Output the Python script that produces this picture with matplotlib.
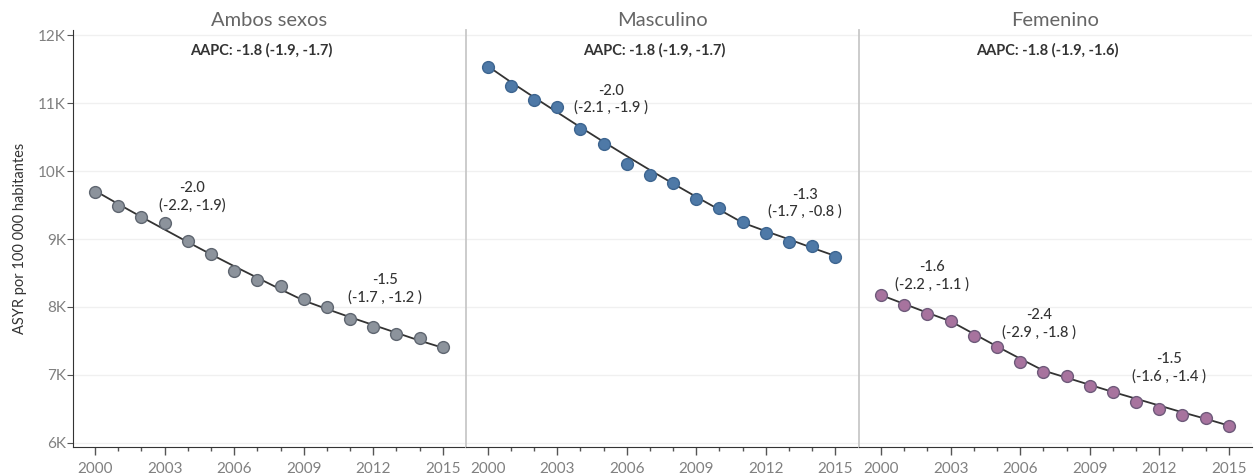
import matplotlib.pyplot as plt
from matplotlib.ticker import FuncFormatter, MultipleLocator

plt.rcParams['font.family'] = ['Lato', 'DejaVu Sans']

years = list(range(2000, 2016))
panels = ["Ambos sexos", "Masculino", "Femenino"]

# valores observados (ASYR por 100 000)
ambos = [9690, 9490, 9330, 9235, 8965, 8775, 8535, 8400, 8305, 8120,
         8000, 7830, 7700, 7600, 7540, 7410]
masc = [11535, 11255, 11050, 10935, 10620, 10405, 10105, 9945, 9820, 9590,
        9455, 9255, 9085, 8950, 8895, 8740]
fem = [8180, 8025, 7890, 7795, 7580, 7410, 7185, 7050, 6990, 6840,
       6745, 6605, 6500, 6405, 6365, 6250]

# lineas de tendencia (joinpoint)
ambos_fit = [9710, 9515, 9325, 9140, 8955, 8775, 8600, 8430, 8260, 8095,
             7970, 7850, 7735, 7620, 7505, 7400]
masc_fit = [11545, 11310, 11085, 10865, 10645, 10430, 10220, 10015, 9815, 9620,
            9430, 9240, 9115, 8995, 8870, 8750]
fem_fit = [8175, 8045, 7915, 7790, 7605, 7420, 7240, 7065, 6960, 6855,
           6750, 6650, 6550, 6450, 6355, 6255]

aapc = ["AAPC: -1.8 (-1.9, -1.7)", "AAPC: -1.8 (-1.9, -1.7)", "AAPC: -1.8 (-1.9, -1.6)"]

# etiquetas de segmentos: (x, y, texto)
seg_labels = [
    [(2004.2, 9620, "-2.0\n(-2.2, -1.9)"), (2012.5, 8270, "-1.5\n(-1.7 , -1.2 )")],
    [(2005.3, 11055, "-2.0\n(-2.1 , -1.9 )"), (2013.7, 9525, "-1.3\n(-1.7 , -0.8 )")],
    [(2002.2, 8455, "-1.6\n(-2.2 , -1.1 )"), (2006.8, 7755, "-2.4\n(-2.9 , -1.8 )"),
     (2012.4, 7105, "-1.5\n(-1.6 , -1.4 )")],
]

obs = [ambos, masc, fem]
fits = [ambos_fit, masc_fit, fem_fit]
face = ["#8c939c", "#4e79a7", "#a7739e"]
edge = ["#5f6670", "#3d6590", "#6e5a7a"]

fig = plt.figure(figsize=(12.54, 4.76), dpi=100)
W, H = 1254, 476
lefts = [73, 465.6, 859]
width = 393
bottom, top = 447, 30

axes = []
for i in range(3):
    ax = fig.add_axes([lefts[i] / W, 1 - bottom / H, width / W, (bottom - top) / H])
    axes.append(ax)
    ax.set_xlim(1999.05, 2016.0)
    ax.set_ylim(5940, 12075)
    ax.yaxis.set_major_locator(MultipleLocator(1000))
    ax.grid(axis='y', color='#f0f0f0', lw=1)
    ax.set_axisbelow(True)

    ax.plot(years, fits[i], color='#333333', lw=1.3, zorder=2)
    ax.plot(years, obs[i], 'o', ms=8.5, mfc=face[i], mec=edge[i], mew=1, zorder=3)

    ax.set_title(panels[i], fontsize=14.5, color='#666666', pad=3)
    ax.text(0.48, 0.952, aapc[i], transform=ax.transAxes, ha='center', va='center',
            fontsize=10.5, fontweight='bold', color='#333333')
    for x, y, t in seg_labels[i]:
        ax.text(x, y, t, ha='center', va='center', fontsize=10.5, color='#333333',
                fontweight='medium', linespacing=1.25)

    ax.set_xticks([2000, 2003, 2006, 2009, 2012, 2015])
    ax.set_xticks(years, minor=True)
    ax.tick_params(axis='x', which='major', length=6, width=1, color='#555555',
                   labelsize=11, labelcolor='#808080', pad=5)
    ax.tick_params(axis='x', which='minor', length=3, width=1, color='#555555')

    ax.spines['top'].set_visible(False)
    ax.spines['right'].set_visible(False)
    ax.spines['bottom'].set_color('#333333')
    if i == 0:
        ax.spines['left'].set_color('#333333')
        ax.yaxis.set_major_formatter(FuncFormatter(lambda v, p: f"{int(v/1000)}K"))
        ax.tick_params(axis='y', length=4, color='#555555', labelsize=11,
                       labelcolor='#808080', pad=1)
        ax.set_ylabel("ASYR por 100 000 habitantes", fontsize=10.5, color='#333333', labelpad=8)
    else:
        ax.spines['left'].set_color('#c8c8c8')
        ax.spines['left'].set_linewidth(1.3)
        ax.tick_params(axis='y', length=0, labelleft=False)

fig.savefig("out.png", dpi=100)
